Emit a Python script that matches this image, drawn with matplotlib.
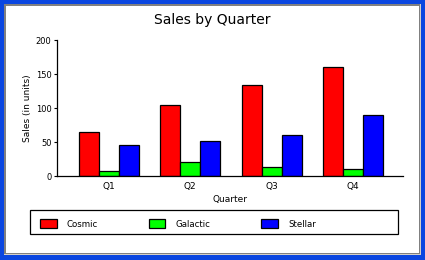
import matplotlib
matplotlib.use("Agg")
import matplotlib.pyplot as plt
from matplotlib.patches import Rectangle
import numpy as np

quarters = ["Q1", "Q2", "Q3", "Q4"]
series_names = ["Cosmic", "Galactic", "Stellar"]
cosmic = [64, 104, 134, 160]
galactic = [8, 20, 13, 11]
stellar = [45, 51, 60, 90]
colors = ["#FF0000", "#00FF00", "#0000FF"]
yticks = [0, 50, 100, 150, 200]

W, H = 425, 260
fig = plt.figure(figsize=(W / 100, H / 100), dpi=100)
fig.patch.set_facecolor("#0A46E0")

def px_rect(x0, y0, x1, y1, z=-1, **kw):
    r = Rectangle((x0 / W, 1 - y1 / H), (x1 - x0) / W, (y1 - y0) / H,
                  transform=fig.transFigure, zorder=z, **kw)
    fig.patches.append(r)
    return r

# window frame
px_rect(4, 4, 421, 255, facecolor="#D4D0C8", edgecolor="none", z=-3)
px_rect(4, 4, 420, 254, facecolor="#808080", edgecolor="none", z=-2)
px_rect(6, 6, 419, 253, facecolor="#FFFFFF", edgecolor="none", z=-1)

ax = fig.add_axes([57 / W, 1 - 176 / H, (403 - 57) / W, (176 - 40) / H])
ax.set_facecolor("none")

x = np.arange(len(quarters))
bw = 0.245
for i, (vals, c, name) in enumerate(zip([cosmic, galactic, stellar], colors, series_names)):
    ax.bar(x + (i - 1) * bw, vals, width=bw, color=c, edgecolor="black",
           linewidth=0.9, label=name)

ax.set_xlim(-0.634, 3.61)
ax.set_ylim(0, 200)
ax.set_yticks(yticks)
ax.set_xticks(x)
ax.set_xticklabels(quarters)
for s in ["top", "right"]:
    ax.spines[s].set_visible(False)
for s in ["left", "bottom"]:
    ax.spines[s].set_linewidth(0.9)
    ax.spines[s].set_color("black")
ax.tick_params(axis="y", length=2.5, width=0.8, pad=1.5, labelsize=6)
ax.tick_params(axis="x", length=0, pad=4, labelsize=6.5)
ax.set_ylabel("Sales (in units)", fontsize=6.5, labelpad=2.5)
ax.set_xlabel("Quarter", fontsize=6.5, labelpad=3)

fig.text(212 / W, 1 - 20 / H, "Sales by Quarter", ha="center", va="center",
         fontsize=10)

# legend box
px_rect(29.7, 210.3, 397.7, 234.3, z=1, facecolor="white", edgecolor="black", linewidth=0.9)
handles, labels = ax.get_legend_handles_labels()
leg = fig.legend(handles, labels, loc="center left",
                 bbox_to_anchor=(40 / W, 1 - 224 / H), ncol=3, frameon=False,
                 fontsize=6.2, handlelength=1.92, handleheight=1.08,
                 handletextpad=1.2, columnspacing=5.9, borderpad=0,
                 borderaxespad=0)

fig.savefig("out.png", dpi=100, facecolor=fig.get_facecolor())
